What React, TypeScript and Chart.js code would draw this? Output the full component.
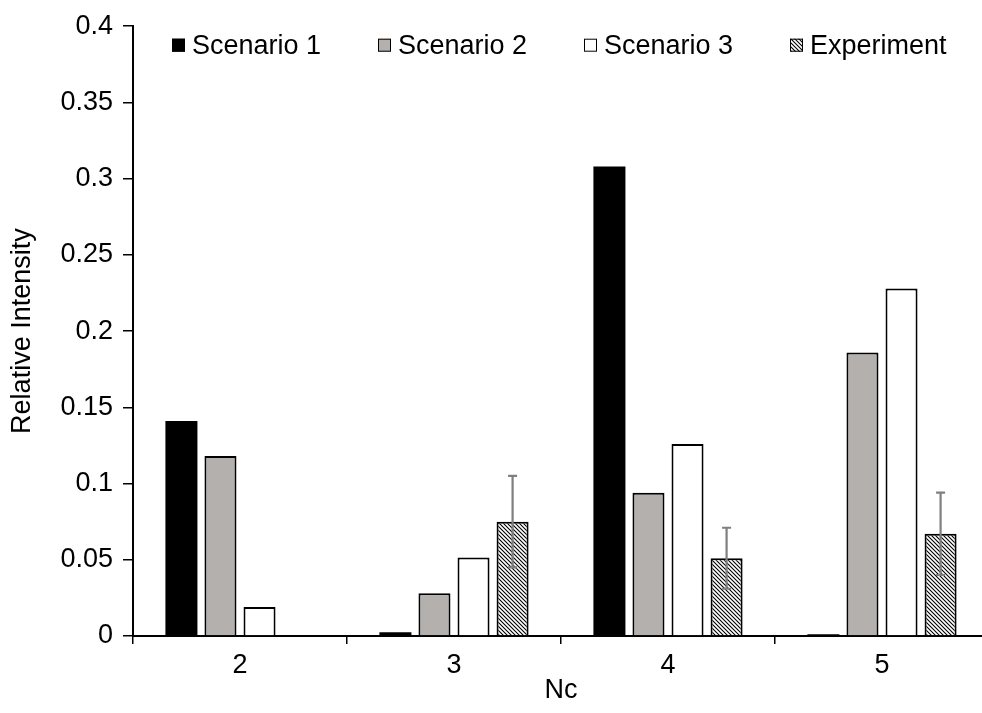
import React, { useEffect, useRef } from 'react';
import { Chart, registerables } from 'chart.js';

Chart.register(...registerables);

const categories = ['2', '3', '4', '5'];
const seriesNames = ['Scenario 1', 'Scenario 2', 'Scenario 3', 'Experiment'];
const scenario1 = [0.141, 0.0025, 0.308, 0.0012];
const scenario2 = [0.118, 0.028, 0.094, 0.186];
const scenario3 = [0.019, 0.0515, 0.126, 0.228];
const experiment = [null, 0.075, 0.051, 0.067];
const experimentErr = [null, 0.03, 0.02, 0.027];
const yTickValues = [0, 0.05, 0.1, 0.15, 0.2, 0.25, 0.3, 0.35, 0.4];
const xTitle = 'Nc';
const yTitle = 'Relative Intensity';

const FONT = "'Liberation Sans', Arial, sans-serif";
const FS = 27;
const GRAY = '#b4b0ae';

function makeHatch(): CanvasPattern | string {
  const c = document.createElement('canvas');
  const s = 4;
  c.width = s;
  c.height = s;
  const g = c.getContext('2d');
  if (!g) return '#ccc';
  g.fillStyle = '#fff';
  g.fillRect(0, 0, s, s);
  g.strokeStyle = '#000';
  g.lineWidth = 1.1;
  g.beginPath();
  g.moveTo(-1, -1); g.lineTo(s + 1, s + 1);
  g.moveTo(-1, s - 1); g.lineTo(1, s + 1);
  g.moveTo(s - 1, -1); g.lineTo(s + 1, 1);
  g.stroke();
  const p = g.createPattern(c, 'repeat');
  return p || '#ccc';
}

const errorBarPlugin = {
  id: 'errorBars',
  afterDatasetsDraw(chart: any) {
    const meta = chart.getDatasetMeta(3);
    const yScale = chart.scales.y;
    const ctx = chart.ctx;
    ctx.save();
    ctx.strokeStyle = '#7f7f7f';
    ctx.lineWidth = 2.2;
    meta.data.forEach((bar: any, i: number) => {
      const v = experiment[i];
      const e = experimentErr[i];
      if (v == null || e == null) return;
      const x = bar.x;
      const yTop = yScale.getPixelForValue(v + e);
      const yBot = yScale.getPixelForValue(v - e);
      ctx.beginPath();
      ctx.moveTo(x, yBot);
      ctx.lineTo(x, yTop);
      ctx.moveTo(x - 4.5, yTop);
      ctx.lineTo(x + 4.5, yTop);
      ctx.moveTo(x - 4.5, yBot);
      ctx.lineTo(x + 4.5, yBot);
      ctx.stroke();
    });
    ctx.restore();
  },
};

const legendPlugin = {
  id: 'insideLegend',
  afterDraw(chart: any) {
    const ctx = chart.ctx;
    const area = chart.chartArea;
    ctx.save();
    ctx.font = `${FS}px ${FONT}`;
    ctx.textBaseline = 'middle';
    ctx.textAlign = 'left';
    const y = area.top + 19;
    const box = 13;
    let x = area.left + 39;
    chart.data.datasets.forEach((ds: any) => {
      ctx.fillStyle = ds.backgroundColor;
      ctx.fillRect(x, y - box / 2, box, box);
      ctx.strokeStyle = '#000';
      ctx.lineWidth = 1;
      ctx.strokeRect(x + 0.5, y - box / 2 + 0.5, box - 1, box - 1);
      ctx.fillStyle = '#000';
      ctx.fillText(ds.label, x + box + 7, y + 1);
      x += 206;
    });
    ctx.restore();
  },
};

export default function App() {
  const ref = useRef<HTMLCanvasElement | null>(null);

  useEffect(() => {
    if (!ref.current) return;
    const hatch = makeHatch();
    const common = { borderColor: '#000', borderSkipped: 'bottom' as const };
    const chart = new Chart(ref.current, {
      type: 'bar',
      data: {
        labels: categories,
        datasets: [
          { label: seriesNames[0], data: scenario1, backgroundColor: '#000', borderWidth: 0, ...common },
          { label: seriesNames[1], data: scenario2, backgroundColor: GRAY, borderWidth: 2, ...common },
          { label: seriesNames[2], data: scenario3, backgroundColor: '#fff', borderWidth: 2, ...common },
          { label: seriesNames[3], data: experiment as any, backgroundColor: hatch as any, borderWidth: 2, ...common },
        ],
      },
      options: {
        animation: false,
        responsive: true,
        maintainAspectRatio: false,
        layout: { padding: { top: 25, right: 11, left: 0, bottom: 0 } },
        datasets: { bar: { categoryPercentage: 0.73, barPercentage: 0.82 } },
        plugins: {
          legend: { display: false },
          tooltip: { enabled: false },
        },
        scales: {
          x: {
            grid: {
              display: true,
              drawOnChartArea: false,
              drawTicks: true,
              tickLength: 8,
              offset: true,
              color: '#000',
              lineWidth: 1.5,
            },
            border: { display: true, color: '#000', width: 2 },
            ticks: { color: '#000', font: { family: FONT, size: FS }, padding: 5 },
            title: {
              display: true,
              text: xTitle,
              color: '#000',
              font: { family: FONT, size: FS },
              padding: { top: 0, bottom: 6 },
            },
            afterFit: (s: any) => { s.height = 77; },
          },
          y: {
            min: 0,
            max: 0.4,
            grid: {
              display: true,
              drawOnChartArea: false,
              drawTicks: true,
              tickLength: 10,
              color: '#000',
              lineWidth: 1.5,
            },
            border: { display: true, color: '#000', width: 2 },
            afterBuildTicks: (s: any) => { s.ticks = yTickValues.map((v) => ({ value: v })); },
            ticks: {
              color: '#000',
              font: { family: FONT, size: FS },
              padding: 10,
              callback: (v: any) => String(Number(Number(v).toFixed(2))),
            },
            title: {
              display: true,
              text: yTitle,
              color: '#000',
              font: { family: FONT, size: FS },
              padding: { top: 6, bottom: 6 },
            },
            afterFit: (s: any) => { s.width = 133; },
          },
        },
      },
      plugins: [errorBarPlugin, legendPlugin],
    });
    return () => chart.destroy();
  }, []);

  return (
    <div style={{ position: 'fixed', left: 0, top: 0, width: 982, height: 713, overflow: 'hidden', background: '#fff' }}>
      <div style={{ position: 'absolute', left: 0, top: 0, width: 1000, height: 713 }}>
        <canvas ref={ref} />
      </div>
    </div>
  );
}
